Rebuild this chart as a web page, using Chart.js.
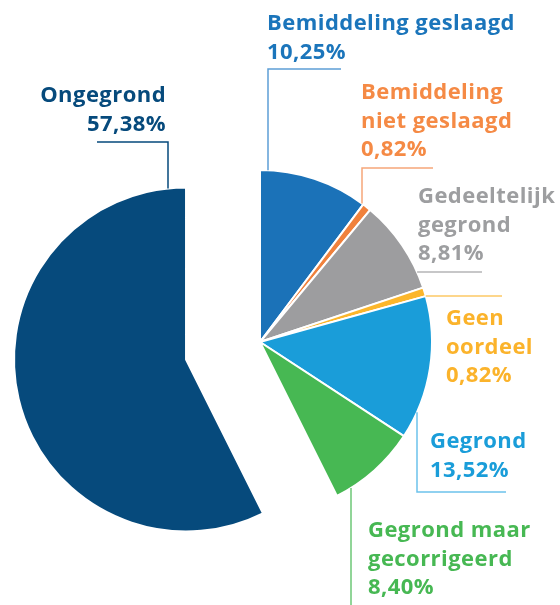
<!DOCTYPE html>
<html>
<head>
<meta charset="utf-8">
<script src="https://cdn.jsdelivr.net/npm/chart.js@4/dist/chart.umd.min.js"></script>
<style>
  html, body { margin: 0; padding: 0; background: #ffffff; }
  #wrap { position: relative; width: 560px; height: 605px; }
</style>
</head>
<body>
<div id="wrap"><canvas id="c"></canvas></div>
<script>
// ---- data ----
const categories = [
  ['Bemiddeling geslaagd'],
  ['Bemiddeling', 'niet geslaagd'],
  ['Gedeeltelijk', 'gegrond'],
  ['Geen', 'oordeel'],
  ['Gegrond'],
  ['Gegrond maar', 'gecorrigeerd'],
  ['Ongegrond']
];
const values = [10.25, 0.82, 8.81, 0.82, 13.52, 8.40, 57.38];

// ---- styles ----
const sliceColors = ['#1b72b8', '#f0813c', '#9d9d9f', '#fbb62b', '#1a9dd9', '#47b853', '#064a7c'];
const textColors  = ['#1b75bb', '#f58a45', '#9d9ea0', '#fbb32b', '#1a9dd9', '#47b853', '#064a7c'];
const lineColors  = ['#5d9fd6', '#f6a779', '#b4b4b6', '#fcc965', '#6cc2ec', '#6cc776', '#064a7c'];
const explode = [0, 0, 0, 0, 0, 0, 76];

// label layout: text position and leader geometry
const labelLayout = [
  { x: 267, y: 30,  align: 'left',  leader: { type: 'vUp',   x: 268, to: 69, hx2: 341 } },
  { x: 361, y: 99,  align: 'left',  leader: { type: 'vUp',   x: 362, to: 168, hx2: 433 } },
  { x: 418, y: 203, align: 'left',  leader: { type: 'hRight', y: 272, to: 482 } },
  { x: 446, y: 325, align: 'left',  leader: { type: 'hRight', y: 296, to: 502 } },
  { x: 430, y: 448, align: 'left',  leader: { type: 'vDown', x: 417, to: 492, hx2: 506 } },
  { x: 368, y: 537, align: 'left',  leader: { type: 'vDown', x: 351, to: 605 } },
  { x: 166, y: 102, align: 'right', leader: { type: 'vUp',   x: 168, to: 142, hx2: 97 } }
];
const linePitch = 28.5;
const fontSpec = 'bold 22px "Open Sans", "Noto Sans", sans-serif';
const letterSpacing = '0.45px';

function pct(v) { return v.toFixed(2).replace('.', ',') + '%'; }

function explodeShift(arc, i) {
  const p = arc.getProps(['startAngle', 'endAngle'], true);
  const mid = (p.startAngle + p.endAngle) / 2;
  const d = explode[i] || 0;
  return { dx: Math.cos(mid) * d, dy: Math.sin(mid) * d };
}

const explodePlugin = {
  id: 'explodeSlices',
  beforeDatasetsDraw(chart) {
    const meta = chart.getDatasetMeta(0);
    meta.data.forEach((arc, i) => {
      if (!explode[i] || arc.$exploded) return;
      const orig = arc.draw;
      arc.draw = function (ctx, area) {
        const s = explodeShift(this, i);
        ctx.save();
        ctx.translate(s.dx, s.dy);
        orig.call(this, ctx, area);
        ctx.restore();
      };
      arc.$exploded = true;
    });
  }
};

const labelPlugin = {
  id: 'sliceLabels',
  afterDatasetsDraw(chart) {
    const ctx = chart.ctx;
    const meta = chart.getDatasetMeta(0);
    ctx.save();
    meta.data.forEach((arc, i) => {
      const p = arc.getProps(['x', 'y', 'outerRadius'], true);
      const s = explodeShift(arc, i);
      const cx = p.x + s.dx, cy = p.y + s.dy, r = p.outerRadius;
      const lay = labelLayout[i];
      const L = lay.leader;
      ctx.strokeStyle = lineColors[i];
      ctx.lineWidth = 1.5;
      ctx.beginPath();
      if (L.type === 'vUp' || L.type === 'vDown') {
        const dx = L.x - cx;
        const dy = Math.sqrt(Math.max(r * r - dx * dx, 0));
        const ya = L.type === 'vUp' ? cy - dy : cy + dy;
        ctx.moveTo(L.x, ya);
        ctx.lineTo(L.x, L.to);
        if (L.hx2 !== undefined) ctx.lineTo(L.hx2, L.to);
      } else {
        const dy = L.y - cy;
        const dx = Math.sqrt(Math.max(r * r - dy * dy, 0));
        ctx.moveTo(cx + dx, L.y);
        ctx.lineTo(L.to, L.y);
      }
      ctx.stroke();

      const lines = chart.data.labels[i].concat([pct(chart.data.datasets[0].data[i])]);
      ctx.fillStyle = textColors[i];
      ctx.font = fontSpec;
      if ('letterSpacing' in ctx) ctx.letterSpacing = letterSpacing;
      ctx.textAlign = lay.align;
      ctx.textBaseline = 'alphabetic';
      lines.forEach((t, k) => ctx.fillText(t, lay.x, lay.y + k * linePitch));
    });
    ctx.restore();
  }
};

new Chart(document.getElementById('c'), {
  type: 'pie',
  data: {
    labels: categories,
    datasets: [{
      data: values,
      backgroundColor: sliceColors,
      borderColor: '#ffffff',
      borderWidth: 2,
      hoverOffset: 0,
      clip: false
    }]
  },
  options: {
    responsive: true,
    maintainAspectRatio: false,
    animation: false,
    radius: 172,
    layout: { padding: { left: 0, right: 40, top: 79, bottom: 0 } },
    plugins: {
      legend: { display: false },
      tooltip: { enabled: false }
    },
    events: []
  },
  plugins: [explodePlugin, labelPlugin]
});
</script>
</body>
</html>
